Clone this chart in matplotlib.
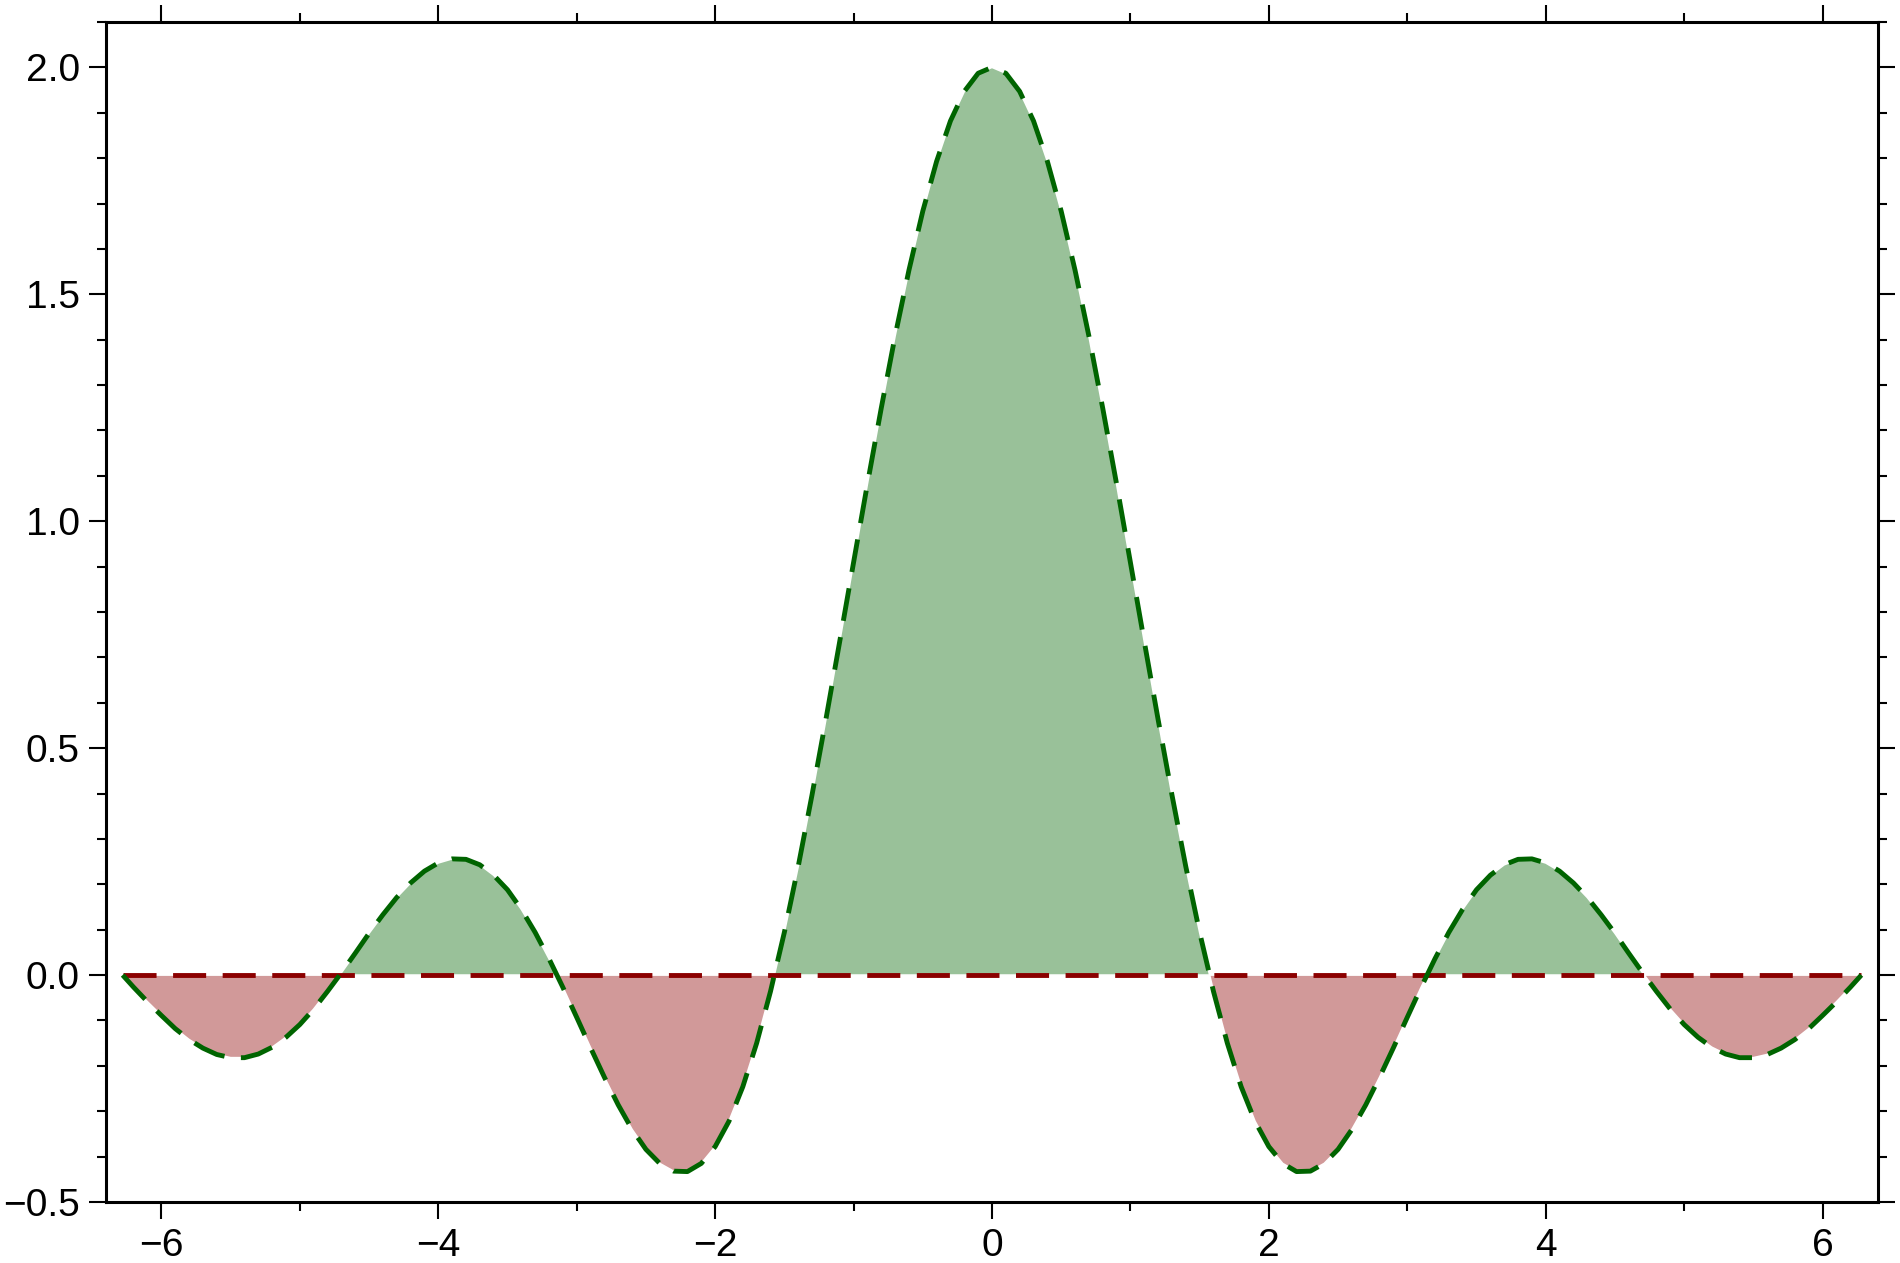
import matplotlib.pyplot as plt
from matplotlib.ticker import MultipleLocator, FuncFormatter

plt.rcParams['font.family'] = ['Liberation Sans', 'DejaVu Sans']

# curve values
x = [-6.28, -6.2, -6.1, -6.0, -5.9, -5.8, -5.7, -5.6, -5.5, -5.4, -5.3, -5.2, -5.1,
     -5.0, -4.9, -4.8, -4.7, -4.6, -4.5, -4.4, -4.3, -4.2, -4.1, -4.0, -3.9, -3.8,
     -3.7, -3.6, -3.5, -3.4, -3.3, -3.2, -3.1, -3.0, -2.9, -2.8, -2.7, -2.6, -2.5,
     -2.4, -2.3, -2.2, -2.1, -2.0, -1.9, -1.8, -1.7, -1.6, -1.5, -1.4, -1.3, -1.2,
     -1.1, -1.0, -0.9, -0.8, -0.7, -0.6, -0.5, -0.4, -0.3, -0.2, -0.1, 0.0,
     0.1, 0.2, 0.3, 0.4, 0.5, 0.6, 0.7, 0.8, 0.9, 1.0, 1.1, 1.2, 1.3, 1.4, 1.5,
     1.6, 1.7, 1.8, 1.9, 2.0, 2.1, 2.2, 2.3, 2.4, 2.5, 2.6, 2.7, 2.8, 2.9, 3.0,
     3.1, 3.2, 3.3, 3.4, 3.5, 3.6, 3.7, 3.8, 3.9, 4.0, 4.1, 4.2, 4.3, 4.4, 4.5,
     4.6, 4.7, 4.8, 4.9, 5.0, 5.1, 5.2, 5.3, 5.4, 5.5, 5.6, 5.7, 5.8, 5.9, 6.0,
     6.1, 6.2, 6.28]
y = [0.0, -0.027, -0.059, -0.089, -0.118, -0.142, -0.161, -0.175, -0.182, -0.182,
     -0.174, -0.159, -0.137, -0.109, -0.075, -0.036, 0.005, 0.048, 0.092, 0.133,
     0.171, 0.203, 0.229, 0.247, 0.256, 0.255, 0.243, 0.220, 0.188, 0.145, 0.094,
     0.036, -0.027, -0.093, -0.160, -0.225, -0.286, -0.340, -0.384, -0.415, -0.432,
     -0.433, -0.415, -0.378, -0.322, -0.246, -0.150, -0.036, 0.094, 0.239, 0.397,
     0.563, 0.735, 0.909, 1.082, 1.249, 1.408, 1.553, 1.683, 1.793, 1.882, 1.947,
     1.987, 2.0,
     1.987, 1.947, 1.882, 1.793, 1.683, 1.553, 1.408, 1.249, 1.082, 0.909, 0.735,
     0.563, 0.397, 0.239, 0.094, -0.036, -0.150, -0.246, -0.322, -0.378, -0.415,
     -0.433, -0.432, -0.415, -0.384, -0.340, -0.286, -0.225, -0.160, -0.093, -0.027,
     0.036, 0.094, 0.145, 0.188, 0.220, 0.243, 0.255, 0.256, 0.247, 0.229, 0.203,
     0.171, 0.133, 0.092, 0.048, 0.005, -0.036, -0.075, -0.109, -0.137, -0.159,
     -0.174, -0.182, -0.182, -0.175, -0.161, -0.142, -0.118, -0.089, -0.059, -0.027,
     0.0]
baseline = [0.0] * len(x)

fig = plt.figure(figsize=(19, 12.63), dpi=100)
ax = fig.add_axes([0.0558, 0.0483, 0.9326, 0.9343])

pos = [v > 0 for v in y]
neg = [v < 0 for v in y]
ax.fill_between(x, y, baseline, where=pos, interpolate=True,
                facecolor='#99c199', edgecolor='white', linewidth=1.2)
ax.fill_between(x, y, baseline, where=neg, interpolate=True,
                facecolor='#d19999', edgecolor='white', linewidth=1.2)

ax.plot(x, baseline, color='#8b0000', linewidth=3.5, dashes=(6.8, 3.4))
ax.plot(x, y, color='#006400', linewidth=3.5, dashes=(6.8, 3.4))

ax.set_xlim(-6.4, 6.4)
ax.set_ylim(-0.5, 2.1)
ax.xaxis.set_major_locator(MultipleLocator(2))
ax.xaxis.set_minor_locator(MultipleLocator(1))
ax.yaxis.set_major_locator(MultipleLocator(0.5))
ax.yaxis.set_minor_locator(MultipleLocator(0.1))
ax.yaxis.set_major_formatter(FuncFormatter(lambda v, p: f'{v:.1f}'.replace('-', '\u2212')))

ax.tick_params(which='both', direction='out', top=True, right=True,
               labeltop=False, labelright=False, width=1.5, color='black')
ax.tick_params(which='major', length=12, labelsize=28, pad=7)
ax.tick_params(which='minor', length=6.5)
for s in ax.spines.values():
    s.set_linewidth(2.2)

plt.savefig('out.png', dpi=100)
